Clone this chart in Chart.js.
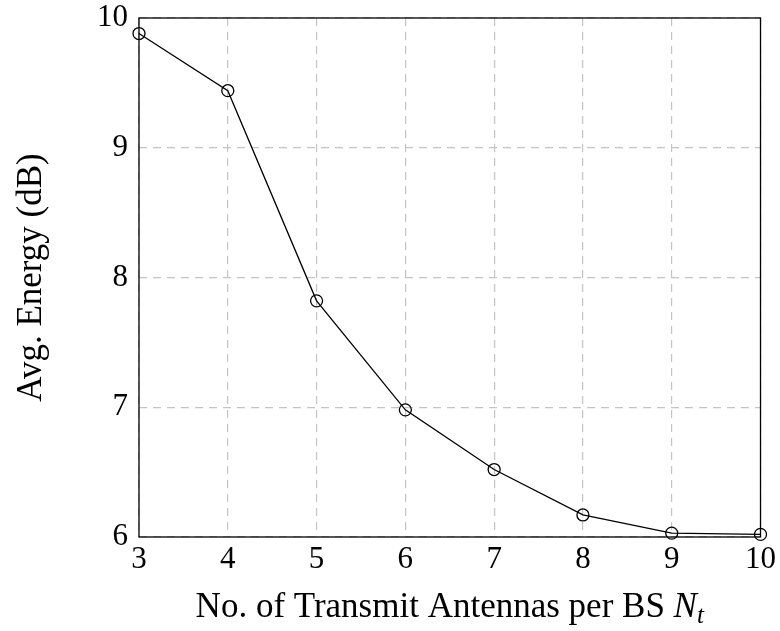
<!DOCTYPE html>
<html>
<head>
<meta charset="utf-8">
<script src="https://cdn.jsdelivr.net/npm/chart.js@4"></script>
<style>
  html, body { margin: 0; padding: 0; background: #fff; }
  #wrap { width: 780px; height: 631px; }
</style>
</head>
<body>
<div id="wrap"><canvas id="c" width="780" height="631"></canvas></div>
<script>
const antennas = [3, 4, 5, 6, 7, 8, 9, 10];
const avgEnergy = [9.88, 9.44, 7.82, 6.98, 6.52, 6.17, 6.03, 6.02];
const yTicks = [6, 7, 8, 9, 10];
const xTitle = 'No. of Transmit Antennas per BS ';
const yTitle = 'Avg. Energy (dB)';

const serif = '"Liberation Serif", "DejaVu Serif", serif';

// box round the plot plus the two axis titles (x title has italic N with subscript t)
const frame = {
  id: 'frame',
  afterDraw(chart) {
    const { ctx, chartArea: a } = chart;
    ctx.save();
    ctx.strokeStyle = '#000';
    ctx.lineWidth = 1.3;
    ctx.strokeRect(a.left, a.top, a.right - a.left, a.bottom - a.top);

    ctx.fillStyle = '#000';
    ctx.textBaseline = 'alphabetic';
    ctx.font = '35px ' + serif;
    const w1 = ctx.measureText(xTitle).width;
    ctx.font = 'italic 35px ' + serif;
    const w2 = ctx.measureText('N').width;
    ctx.font = 'italic 25px ' + serif;
    const w3 = ctx.measureText('t').width;
    let x = (a.left + a.right) / 2 - (w1 + w2 + w3) / 2;
    const y = 617;
    ctx.font = '35px ' + serif;
    ctx.textAlign = 'left';
    ctx.fillText(xTitle, x, y);
    x += w1;
    ctx.font = 'italic 35px ' + serif;
    ctx.fillText('N', x, y);
    x += w2;
    ctx.font = 'italic 25px ' + serif;
    ctx.fillText('t', x, y + 6);

    ctx.translate(41, (a.top + a.bottom) / 2);
    ctx.rotate(-Math.PI / 2);
    ctx.textAlign = 'center';
    ctx.font = '35px ' + serif;
    ctx.fillText(yTitle, 0, 0);
    ctx.restore();
  }
};

new Chart(document.getElementById('c'), {
  type: 'line',
  data: {
    datasets: [{
      data: antennas.map((v, i) => ({ x: v, y: avgEnergy[i] })),
      borderColor: '#000',
      borderWidth: 1.3,
      pointRadius: 6,
      pointBorderWidth: 1.3,
      pointBorderColor: '#000',
      pointBackgroundColor: 'rgba(0,0,0,0)',
      tension: 0,
      fill: false,
      clip: false
    }]
  },
  options: {
    responsive: false,
    animation: false,
    layout: { padding: { left: 0, right: 18, top: 18, bottom: 0 } },
    plugins: { legend: { display: false }, tooltip: { enabled: false } },
    scales: {
      x: {
        type: 'linear',
        min: 3,
        max: 10,
        afterFit: s => { s.height = 94; },
        ticks: { stepSize: 1, color: '#000', padding: 4, font: { family: serif, size: 31 } },
        grid: { color: '#c4c4c4', lineWidth: 1.2, drawTicks: false },
        border: { display: false, dash: [8, 6] }
      },
      y: {
        min: 6,
        max: 10,
        afterFit: s => { s.width = 139; s.paddingTop = 0; s.paddingBottom = 0; },
        afterBuildTicks: s => { s.ticks = yTicks.map(v => ({ value: v })); },
        ticks: { color: '#000', padding: 11, font: { family: serif, size: 31 } },
        grid: { color: '#c4c4c4', lineWidth: 1.2, drawTicks: false },
        border: { display: false, dash: [8, 6] }
      }
    }
  },
  plugins: [frame]
});
</script>
</body>
</html>
